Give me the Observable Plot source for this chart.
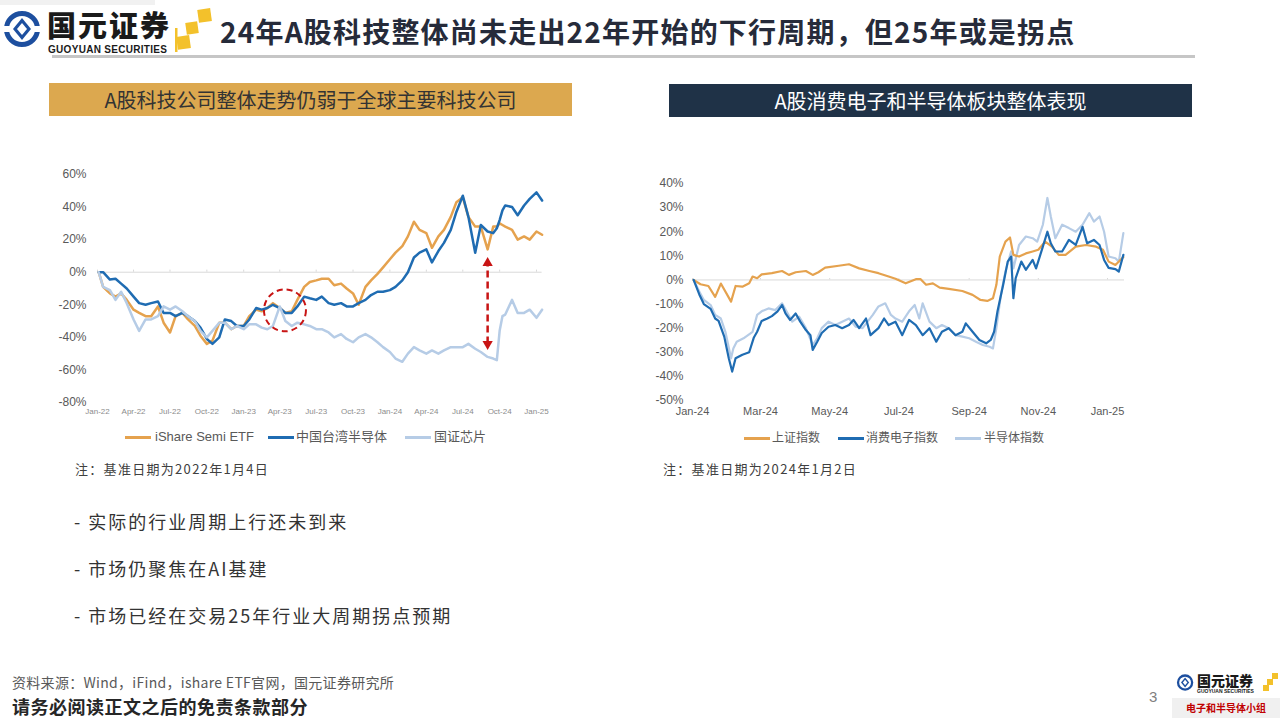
<!DOCTYPE html>
<html><head><meta charset="utf-8">
<script src="https://cdn.jsdelivr.net/npm/d3@7"></script>
<script src="https://cdn.jsdelivr.net/npm/@observablehq/plot@0.6"></script>
<style>
body{margin:0;background:#fff;}
#page{position:relative;width:1280px;height:720px;overflow:hidden;background:#fff;font-family:"Noto Sans CJK SC","Liberation Sans",sans-serif;}
.abs{position:absolute;white-space:nowrap;line-height:1;}
.lg{position:absolute;height:2.5px;width:26px;}
</style></head>
<body><div id="page">
<div class="abs" style="left:0;top:0;width:155px;height:5px;background:#f1f1f1"></div>
<!-- logo -->
<svg class="abs" style="left:2px;top:10px" width="44" height="40" viewBox="0 0 44 40">
  <circle cx="20" cy="19" r="15.5" fill="none" stroke="#1d4f9f" stroke-width="5"/>
  <path d="M20 8 L29 19 L20 30 L11 19 Z" fill="#1d4f9f"/>
  <path d="M20 13 L25 19 L20 25 L15 19 Z" fill="#fff"/>
  <rect x="2" y="16" width="8" height="6" fill="#fff"/>
  <rect x="30" y="16" width="8" height="6" fill="#fff"/>
</svg>
<div class="abs" style="left:47px;top:10px;font-size:29px;font-weight:900;color:#1a1a1a;letter-spacing:2px">国元证券</div>
<div class="abs" style="left:48px;top:45px;font-size:10px;font-weight:700;color:#1a1a1a;font-family:'Liberation Sans',Arial,sans-serif;letter-spacing:0.3px">GUOYUAN SECURITIES</div>
<svg class="abs" style="left:172px;top:6px" width="44" height="48" viewBox="0 0 44 48">
  <rect x="26" y="3" width="13" height="13" fill="#f3c12b" transform="rotate(-8 32 9)"/>
  <rect x="14" y="16" width="12" height="12" fill="#f3c12b" transform="rotate(-8 20 22)"/>
  <rect x="5" y="30" width="13" height="13" fill="#f3c12b" transform="rotate(-8 11 36)"/>
  <rect x="3" y="22" width="2.5" height="24" fill="#f3c12b"/>
</svg>
<div class="abs" style="left:220px;top:17px;font-size:28px;font-weight:700;color:#262b3a;letter-spacing:1.2px">24年A股科技整体尚未走出22年开始的下行周期，但25年或是拐点</div>
<div class="abs" style="left:52px;top:55px;width:1143px;height:3px;background:#c6c6c6"></div>

<!-- section headers -->
<div class="abs" style="left:49px;top:83px;width:523px;height:33px;background:#dca84f;color:#333;font-size:20px;display:flex;align-items:center;justify-content:center">A股科技公司整体走势仍弱于全球主要科技公司</div>
<div class="abs" style="left:669px;top:84px;width:523px;height:33px;background:#1f3247;color:#fff;font-size:20px;display:flex;align-items:center;justify-content:center">A股消费电子和半导体板块整体表现</div>

<div id="leftChart" class="abs" style="left:40px;top:160px;width:520px;height:270px"></div>
<div id="rightChart" class="abs" style="left:640px;top:170px;width:500px;height:260px"></div>

<!-- legends -->
<div class="lg" style="left:125px;top:436px;background:#e5a24e"></div>
<div class="abs" style="left:155px;top:430px;font-size:13px;color:#595959;font-family:'Liberation Sans',Arial,sans-serif">iShare Semi ETF</div>
<div class="lg" style="left:268px;top:436px;background:#1f6cb2"></div>
<div class="abs" style="left:296px;top:429px;font-size:13px;color:#595959">中国台湾半导体</div>
<div class="lg" style="left:405px;top:436px;background:#b6cce6"></div>
<div class="abs" style="left:434px;top:429px;font-size:13px;color:#595959">国证芯片</div>

<div class="lg" style="left:744px;top:437px;background:#e5a24e"></div>
<div class="abs" style="left:772px;top:431px;font-size:12px;color:#595959">上证指数</div>
<div class="lg" style="left:838px;top:437px;background:#1f6cb2"></div>
<div class="abs" style="left:866px;top:431px;font-size:12px;color:#595959">消费电子指数</div>
<div class="lg" style="left:955px;top:437px;background:#b6cce6"></div>
<div class="abs" style="left:984px;top:431px;font-size:12px;color:#595959">半导体指数</div>

<!-- notes -->
<div class="abs" style="left:75px;top:462px;font-size:13px;color:#404040;letter-spacing:1.3px">注：基准日期为2022年1月4日</div>
<div class="abs" style="left:663px;top:462px;font-size:13px;color:#404040;letter-spacing:1.3px">注：基准日期为2024年1月2日</div>

<!-- bullets -->
<div class="abs" style="left:74px;top:512px;font-size:18px;color:#333;letter-spacing:2px">- 实际的行业周期上行还未到来</div>
<div class="abs" style="left:74px;top:559px;font-size:18px;color:#333;letter-spacing:2px">- 市场仍聚焦在AI基建</div>
<div class="abs" style="left:74px;top:606px;font-size:18px;color:#333;letter-spacing:2px">- 市场已经在交易25年行业大周期拐点预期</div>

<!-- footer -->
<div class="abs" style="left:12px;top:675px;font-size:14px;color:#595959;letter-spacing:0.3px">资料来源：Wind，iFind，ishare ETF官网，国元证券研究所</div>
<div class="abs" style="left:12px;top:697px;font-size:18px;font-weight:700;color:#262626;letter-spacing:0.5px">请务必阅读正文之后的免责条款部分</div>
<div class="abs" style="left:1149px;top:689px;font-size:15px;color:#7f7f7f;font-family:'Liberation Sans',Arial,sans-serif">3</div>

<div class="abs" style="left:1170px;top:668px;width:110px;height:52px;background:#fff"></div>
<svg class="abs" style="left:1176px;top:673px" width="20" height="20" viewBox="0 0 44 40">
  <circle cx="20" cy="19" r="15.5" fill="none" stroke="#1d4f9f" stroke-width="5"/>
  <path d="M20 8 L29 19 L20 30 L11 19 Z" fill="#1d4f9f"/>
  <path d="M20 13 L25 19 L20 25 L15 19 Z" fill="#fff"/>
</svg>
<div class="abs" style="left:1197px;top:673px;font-size:14px;font-weight:900;color:#1a1a1a">国元证券</div>
<div class="abs" style="left:1197px;top:689px;font-size:5px;font-weight:700;color:#1a1a1a;font-family:'Liberation Sans',Arial,sans-serif">GUOYUAN SECURITIES</div>
<svg class="abs" style="left:1262px;top:672px" width="18" height="22" viewBox="0 0 18 22">
  <rect x="10" y="1" width="6" height="6" fill="#f3c12b"/>
  <rect x="5" y="7" width="6" height="6" fill="#f3c12b"/>
  <rect x="1" y="13" width="6" height="6" fill="#f3c12b"/>
</svg>
<div class="abs" style="left:1172px;top:698px;width:108px;height:20px;background:#f0f0f0"></div>
<div class="abs" style="left:1172px;top:703px;width:108px;text-align:center;font-size:10px;font-weight:700;color:#c00000">电子和半导体小组</div>
</div>

<script>
// ---------- Left chart data (基准日期 2022-01-04, %) ----------
const leftDates = [
 "2022-01-04","2022-01-15","2022-02-01","2022-02-15","2022-03-01","2022-03-15","2022-04-01","2022-04-15","2022-05-01","2022-05-15","2022-06-01","2022-06-15",
 "2022-07-01","2022-07-15","2022-08-01","2022-08-15","2022-09-01","2022-09-15","2022-10-01","2022-10-15","2022-11-01","2022-11-15","2022-12-01","2022-12-15",
 "2023-01-01","2023-01-15","2023-02-01","2023-02-15","2023-03-01","2023-03-15","2023-04-01","2023-04-15","2023-05-01","2023-05-15","2023-06-01","2023-06-15",
 "2023-07-01","2023-07-15","2023-08-01","2023-08-15","2023-09-01","2023-09-15","2023-10-01","2023-10-15","2023-11-01","2023-11-15","2023-12-01","2023-12-15",
 "2024-01-01","2024-01-15","2024-02-01","2024-02-15","2024-03-01","2024-03-15","2024-04-01","2024-04-15","2024-05-01","2024-05-15","2024-06-01","2024-06-15",
 "2024-07-01","2024-07-15","2024-08-01","2024-08-15","2024-09-01","2024-09-15","2024-09-24","2024-10-01","2024-10-08","2024-10-15","2024-11-01","2024-11-15",
 "2024-12-01","2024-12-15","2025-01-01","2025-01-15"];
const semiEtf = [
 0,-9,-13,-15,-13,-17,-23,-25,-27,-27,-21,-31,-37,-27,-25,-29,-33,-39,-44,-42,-31,-31,-35,-33,
 -33,-27,-23,-24,-22,-19,-22,-25,-24,-17,-9,-6,-5,-4,-4,-8,-7,-10,-13,-20,-9,-5,-1,3,
 8,12,16,22,31,26,24,15,22,26,34,43,46,34,28,28,14,28,28,30,29,28,26,20,22,20,25,23];
const twSemi = [
 0,0,-4.5,-4,-7,-10,-15,-19,-20,-19,-18,-25,-25,-27,-25,-27,-30,-34,-41,-44,-40,-29,-30,-33,
 -33,-29,-22,-23,-22,-20,-22,-25,-25,-21,-15,-16,-17,-15,-19,-20,-19,-21,-21,-19,-17,-14,-12,-12,
 -11,-9,-5,0,9,12,14,6,13,18,26,37,47,34,12,29,25,24,27,32,38,41,40,35,41,45,49,44];
const cnChip = [
 0,-9,-11,-17,-12,-19,-29,-36,-29,-29,-27,-21,-23,-21,-24,-27,-30,-36,-40,-36,-31,-31,-35,-33,
 -35,-32,-32,-34,-35,-33,-21,-30,-33,-31,-32,-33,-35,-35,-37,-40,-38,-41,-43,-40,-38,-40,-43,-46,
 -49,-53,-55,-50,-46,-48,-50,-48,-50,-48,-46,-46,-46,-44,-47,-49,-52,-53,-54,-36,-27,-26,-17,-25,-25,-23,-28,-23];
const leftTicks = ["2022-01-01","2022-04-01","2022-07-01","2022-10-01","2023-01-01","2023-04-01","2023-07-01","2023-10-01","2024-01-01","2024-04-01","2024-07-01","2024-10-01","2025-01-01"];
const leftYTicks = [-80,-60,-40,-20,0,20,40,60];
const circleMark = [{date:"2023-04-14", v:-23.4}];
const arrowMark = [{date:"2024-09-01", top:5.7, bottom:-44.1}];

// ---------- Right chart data (基准日期 2024-01-02, %) ----------
const shIndex = [["2024-01-02",0],["2024-01-08",-1.8],["2024-01-15",-2.5],["2024-01-21",-7],["2024-01-26",-1.5],["2024-02-04",-9],["2024-02-08",-2.5],["2024-02-14",-2.8],["2024-02-20",-1.4],["2024-02-23",1.4],["2024-02-27",0.7],["2024-03-02",2.3],["2024-03-11",2.8],["2024-03-20",3.7],["2024-03-26",2.1],["2024-04-01",3.2],["2024-04-10",3.7],["2024-04-16",2.1],["2024-04-21",3.2],["2024-04-27",5.1],["2024-05-09",5.9],["2024-05-18",6.5],["2024-05-27",4.8],["2024-06-05",3.7],["2024-06-13",2.8],["2024-06-22",1.4],["2024-06-28",0.5],["2024-07-07",-1.4],["2024-07-16",0.3],["2024-07-20",0.4],["2024-07-25",-2],["2024-07-31",-1.4],["2024-08-06",-3.2],["2024-08-14",-3.7],["2024-08-26",-4.6],["2024-09-04",-6.2],["2024-09-11",-8.3],["2024-09-17",-8.7],["2024-09-22",-7.6],["2024-09-25",-2],["2024-09-28",9.7],["2024-10-03",15.9],["2024-10-07",17.6],["2024-10-10",10.4],["2024-10-15",9.7],["2024-10-21",11],["2024-10-27",11.8],["2024-11-01",12.5],["2024-11-07",15.9],["2024-11-13",13.8],["2024-11-19",10.4],["2024-11-25",10.4],["2024-12-04",13.8],["2024-12-13",14.5],["2024-12-22",13.8],["2024-12-28",12.5],["2025-01-02",7.6],["2025-01-08",6.2],["2025-01-15",9.5]];
const consumerElec = [["2024-01-02",0],["2024-01-07",-6],["2024-01-11",-10],["2024-01-17",-12],["2024-01-21",-16],["2024-01-24",-17],["2024-01-29",-23.5],["2024-02-02",-32.5],["2024-02-05",-38],["2024-02-08",-32.5],["2024-02-14",-31],["2024-02-20",-30],["2024-02-24",-24],["2024-02-27",-21.5],["2024-03-02",-17],["2024-03-07",-16],["2024-03-11",-15],["2024-03-16",-13],["2024-03-20",-10.4],["2024-03-23",-13.9],["2024-03-27",-16.6],["2024-04-01",-13.9],["2024-04-05",-17.3],["2024-04-10",-20.8],["2024-04-14",-22.9],["2024-04-16",-29],["2024-04-20",-25.6],["2024-04-24",-22],["2024-04-30",-19.4],["2024-05-06",-18.7],["2024-05-12",-20],["2024-05-18",-18.7],["2024-05-22",-16.6],["2024-05-27",-20],["2024-06-02",-16],["2024-06-06",-22.9],["2024-06-13",-20],["2024-06-18",-16],["2024-06-22",-18.7],["2024-06-28",-17.3],["2024-07-04",-22.9],["2024-07-10",-16.6],["2024-07-16",-18.7],["2024-07-22",-22.9],["2024-07-28",-20],["2024-08-03",-25.6],["2024-08-08",-21.5],["2024-08-14",-20],["2024-08-20",-22.9],["2024-08-26",-21.5],["2024-08-29",-18],["2024-09-04",-21.5],["2024-09-10",-24.9],["2024-09-16",-26.3],["2024-09-20",-24.9],["2024-09-23",-21.5],["2024-09-26",-13],["2024-10-01",-2],["2024-10-05",7.6],["2024-10-08",9.7],["2024-10-10",-7.6],["2024-10-12",0.7],["2024-10-17",7.6],["2024-10-21",4.2],["2024-10-27",8.3],["2024-10-30",4.8],["2024-11-05",13.8],["2024-11-09",20],["2024-11-12",15.2],["2024-11-16",11.8],["2024-11-22",11.8],["2024-11-28",16.6],["2024-12-04",14.5],["2024-12-10",22],["2024-12-14",15.2],["2024-12-20",16.6],["2024-12-25",14.5],["2024-12-29",8.3],["2025-01-02",5],["2025-01-08",4.5],["2025-01-11",3.5],["2025-01-15",10.4]];
const semiIndex = [["2024-01-02",0],["2024-01-07",-4.8],["2024-01-11",-8.3],["2024-01-17",-10.4],["2024-01-21",-14.5],["2024-01-26",-16],["2024-01-30",-21.5],["2024-02-04",-32.5],["2024-02-06",-28.4],["2024-02-09",-25.6],["2024-02-15",-24.2],["2024-02-23",-21.5],["2024-02-27",-14.5],["2024-03-02",-13],["2024-03-08",-11.8],["2024-03-14",-12.5],["2024-03-20",-9.7],["2024-03-25",-13.9],["2024-03-29",-17.3],["2024-04-04",-15.2],["2024-04-10",-20],["2024-04-16",-27],["2024-04-20",-24.2],["2024-04-24",-20],["2024-04-30",-17.3],["2024-05-06",-18.7],["2024-05-12",-17.3],["2024-05-18",-16],["2024-05-24",-19.4],["2024-05-30",-20],["2024-06-08",-14.5],["2024-06-13",-11],["2024-06-19",-9.7],["2024-06-24",-14.5],["2024-06-28",-16],["2024-07-04",-17.3],["2024-07-10",-13],["2024-07-15",-10.4],["2024-07-19",-16],["2024-07-22",-9.7],["2024-07-28",-17.3],["2024-08-03",-20],["2024-08-08",-18.7],["2024-08-14",-20],["2024-08-20",-22.9],["2024-08-26",-23.5],["2024-09-01",-24.2],["2024-09-07",-25.6],["2024-09-13",-27],["2024-09-19",-27.7],["2024-09-22",-28.4],["2024-09-25",-20],["2024-09-29",-6.2],["2024-10-03",3.5],["2024-10-08",11.8],["2024-10-10",4.8],["2024-10-15",14.5],["2024-10-21",18],["2024-10-27",17.3],["2024-10-31",15.9],["2024-11-05",22.9],["2024-11-09",34],["2024-11-12",26.3],["2024-11-16",17.3],["2024-11-22",22.9],["2024-11-28",21.5],["2024-12-04",20],["2024-12-10",22.9],["2024-12-16",27.7],["2024-12-20",24.2],["2024-12-25",26.3],["2024-12-29",20],["2025-01-02",9.7],["2025-01-08",9],["2025-01-11",7.6],["2025-01-15",19.4]];
const rightTicks = ["2024-01-01","2024-03-01","2024-05-01","2024-07-01","2024-09-01","2024-11-01","2025-01-01"];
const rightYTicks = [-50,-40,-30,-20,-10,0,10,20,30,40];

const ORANGE = "#e5a24e", BLUE = "#1f6cb2", LIGHT = "#b6cce6", RED = "#c81414";
const toDate = s => new Date(s);
const fromArrays = (dates, vals) => dates.map((d, i) => ({date: toDate(d), v: vals[i]}));
const fromPairs = pairs => pairs.map(([d, v]) => ({date: toDate(d), v}));
const fmt = d3.utcFormat("%b-%y");

const left = Plot.plot({
  width: 520, height: 270, marginLeft: 57, marginRight: 18.4, marginTop: 14, marginBottom: 28,
  style: {fontFamily: '"Liberation Sans", Arial, sans-serif', color: "#595959", background: "transparent", overflow: "visible"},
  x: {type: "utc", domain: [toDate("2022-01-01"), toDate("2025-01-15")]},
  y: {domain: [-80, 60]},
  marks: [
    Plot.ruleY([0], {stroke: "#d9d9d9", strokeWidth: 1}),
    Plot.ruleX(leftTicks.map(toDate), {y1: 0, y2: 1.3, stroke: "#d9d9d9"}),
    Plot.axisY({ticks: leftYTicks, tickFormat: d => d + "%", tickSize: 0, tickPadding: 11, fontSize: 12, label: null}),
    Plot.axisX({ticks: leftTicks.map(toDate), tickFormat: fmt, tickSize: 0, tickPadding: 6, fontSize: 8, label: null, fill: "#8c8c8c"}),
    Plot.line(fromArrays(leftDates, semiEtf), {x: "date", y: "v", stroke: ORANGE, strokeWidth: 2.5}),
    Plot.line(fromArrays(leftDates, twSemi), {x: "date", y: "v", stroke: BLUE, strokeWidth: 2.5}),
    Plot.line(fromArrays(leftDates, cnChip), {x: "date", y: "v", stroke: LIGHT, strokeWidth: 2.5}),
    Plot.dot(circleMark, {x: d => toDate(d.date), y: "v", r: 21, stroke: RED, strokeWidth: 2, strokeDasharray: "6,4", fill: "none"}),
    Plot.ruleX(arrowMark, {x: d => toDate(d.date), y1: "bottom", y2: "top", stroke: RED, strokeWidth: 2.5, strokeDasharray: "7,4"}),
    Plot.dot(arrowMark, {x: d => toDate(d.date), y: "top", symbol: "triangle", r: 3.8, fill: RED, stroke: "none"}),
    Plot.dot(arrowMark, {x: d => toDate(d.date), y: "bottom", symbol: "triangle", r: 3.8, fill: RED, stroke: "none", rotate: 180})
  ]
});
document.getElementById("leftChart").append(left);

const right = Plot.plot({
  width: 500, height: 260, marginLeft: 52, marginRight: 16, marginTop: 13, marginBottom: 30,
  style: {fontFamily: '"Liberation Sans", Arial, sans-serif', color: "#595959", background: "transparent", overflow: "visible"},
  x: {type: "utc", domain: [toDate("2024-01-01"), toDate("2025-01-16")]},
  y: {domain: [-50, 40]},
  marks: [
    Plot.ruleY([0], {stroke: "#d9d9d9", strokeWidth: 1}),
    Plot.ruleX(rightTicks.map(toDate), {y1: 0, y2: 0.6, stroke: "#d9d9d9"}),
    Plot.axisY({ticks: rightYTicks, tickFormat: d => d + "%", tickSize: 0, tickPadding: 9, fontSize: 12, label: null}),
    Plot.axisX({ticks: rightTicks.map(toDate), tickFormat: fmt, tickSize: 0, tickPadding: 7, fontSize: 11, label: null}),
    Plot.line(fromPairs(semiIndex), {x: "date", y: "v", stroke: LIGHT, strokeWidth: 2.2}),
    Plot.line(fromPairs(shIndex), {x: "date", y: "v", stroke: ORANGE, strokeWidth: 2.2}),
    Plot.line(fromPairs(consumerElec), {x: "date", y: "v", stroke: BLUE, strokeWidth: 2.2})
  ]
});
document.getElementById("rightChart").append(right);
</script>
</body></html>
